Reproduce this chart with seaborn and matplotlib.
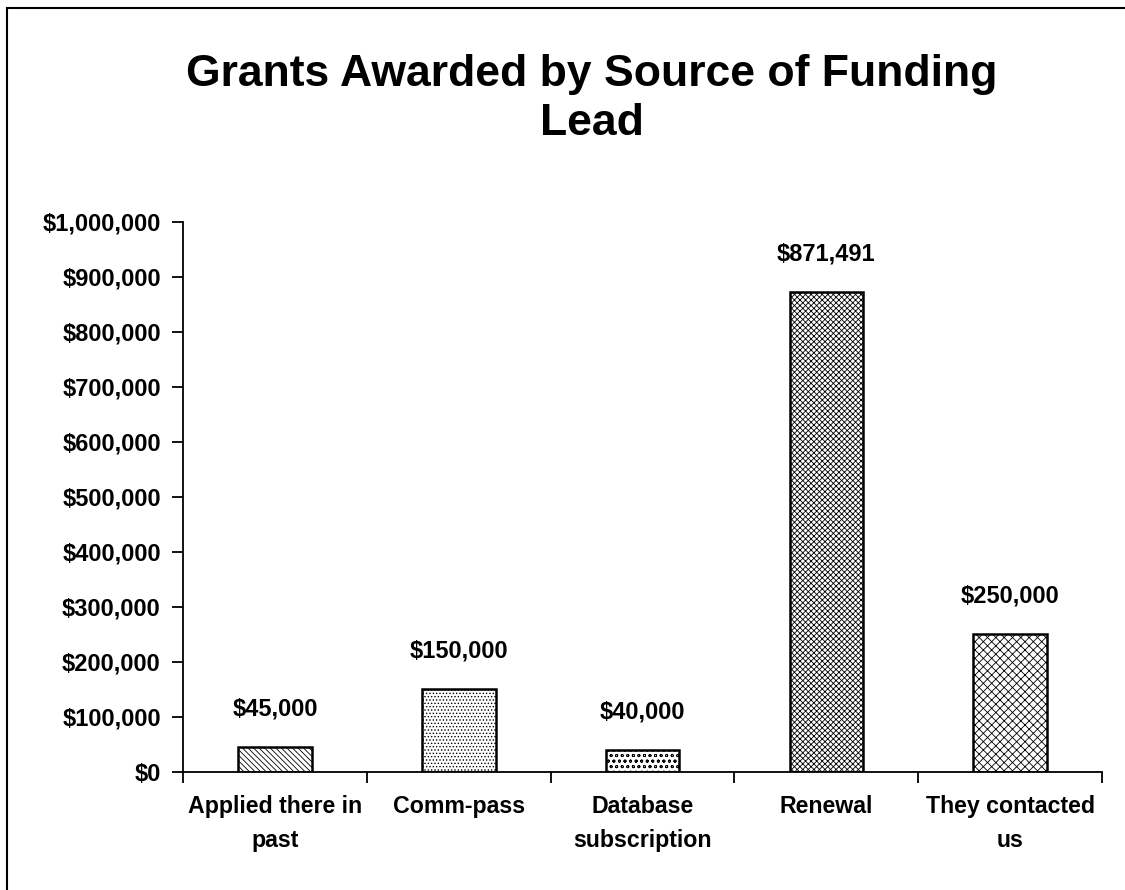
import pandas as pd
import seaborn as sns
import matplotlib.pyplot as plt
from matplotlib.patches import Rectangle
from matplotlib.ticker import FuncFormatter

sns.set_style('white')
plt.rcParams['font.family'] = ['Liberation Sans', 'DejaVu Sans']
plt.rcParams['font.weight'] = 'bold'
plt.rcParams['text.color'] = 'black'
plt.rcParams['xtick.color'] = 'black'
plt.rcParams['ytick.color'] = 'black'
plt.rcParams['hatch.linewidth'] = 0.6

sources = ['Applied there in\npast', 'Comm-pass', 'Database\nsubscription', 'Renewal', 'They contacted\nus']
amounts = [45000, 150000, 40000, 871491, 250000]
hatches = ['\\\\\\\\\\\\', '.....', 'ooo', 'xxxxxx', 'xxxx']

df = pd.DataFrame({'Source': sources, 'Amount': amounts})

fig = plt.figure(figsize=(11.25, 8.9), dpi=100)
ax = fig.add_axes([0.1627, 0.1329, 0.8169, 0.618])

sns.barplot(data=df, x='Source', y='Amount', color='white', edgecolor='black',
            linewidth=1.8, width=0.4, ax=ax)

for patch, h in zip(ax.patches, hatches):
    patch.set_hatch(h)

for i, v in enumerate(amounts):
    ax.annotate(f'${v:,.0f}', (i, v), xytext=(0, 19), textcoords='offset points',
                ha='center', va='bottom', fontsize=17, fontweight='bold')

ax.set_ylim(0, 1000000)
ax.set_xlim(-0.5, len(sources) - 0.5)
ax.yaxis.set_major_formatter(FuncFormatter(lambda v, p: f'${v:,.0f}'))
ax.set_yticks(range(0, 1000001, 100000))

# ticks between categories, labels at centers
ax.set_xticks([i - 0.5 for i in range(len(sources) + 1)])
ax.set_xticklabels([])
ax.set_xticks(range(len(sources)), minor=True)
ax.set_xticklabels(sources, minor=True, fontsize=16.7, fontweight='bold', linespacing=1.6)
ax.tick_params(axis='x', which='minor', length=0, pad=17)
ax.tick_params(axis='x', which='major', length=8, width=1.3, direction='out', bottom=True)
ax.tick_params(axis='y', length=8, width=1.3, direction='out', left=True, labelsize=17, pad=8)
for lab in ax.get_yticklabels():
    lab.set_fontweight('bold')

ax.set_xlabel('')
ax.set_ylabel('')
sns.despine(ax=ax)
for s in ['left', 'bottom']:
    ax.spines[s].set_color('black')
    ax.spines[s].set_linewidth(1.3)

fig.text(0.526, 0.889, 'Grants Awarded by Source of Funding\nLead', ha='center', va='center',
         fontsize=32, fontweight='bold', linespacing=1.26)

fig.patches.append(Rectangle((7 / 1125, -0.01), 1.1, 1 - 8 / 890 + 0.01, transform=fig.transFigure,
                             fill=False, edgecolor='black', linewidth=1.5))

fig.savefig('out.png', dpi=100)
